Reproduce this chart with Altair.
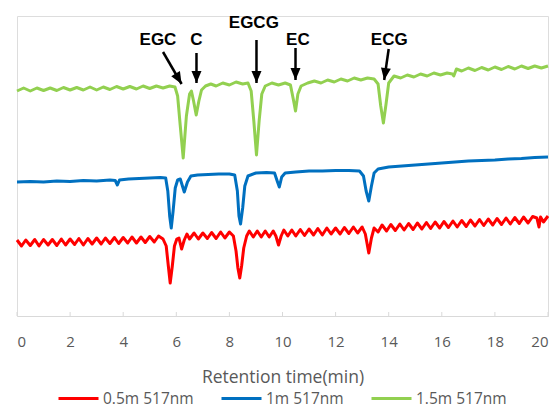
import math
import altair as alt
import pandas as pd

# ---- data (signal in arbitrary units) ----
series_names = ["0.5m 517nm", "1m 517nm", "1.5m 517nm"]
series_colors = ["#FF0000", "#0070C0", "#92D050"]

red_t = [0.00, 0.17, 0.33, 0.50, 0.67, 0.83, 1.00, 1.17, 1.33, 1.50, 1.67, 1.83,
         2.00, 2.17, 2.33, 2.50, 2.67, 2.83, 3.00, 3.17, 3.33, 3.50, 3.67, 3.83,
         4.00, 4.17, 4.33, 4.50, 4.67, 4.83, 5.00, 5.17, 5.33, 5.50, 5.62, 5.70,
         5.77, 5.85, 5.93, 6.02, 6.10, 6.20, 6.30, 6.40, 6.50, 6.67, 6.83, 7.00,
         7.17, 7.33, 7.50, 7.67, 7.83, 8.00, 8.15, 8.25, 8.32, 8.39, 8.46, 8.54,
         8.65, 8.75, 8.90, 9.05, 9.20, 9.35, 9.50, 9.65, 9.75, 9.85, 9.95, 10.05,
         10.20, 10.35, 10.50, 10.67, 10.83, 11.00, 11.17, 11.33, 11.50, 11.67, 11.83, 12.00,
         12.17, 12.33, 12.50, 12.67, 12.83, 13.00, 13.12, 13.25, 13.35, 13.45, 13.60, 13.75,
         13.92, 14.08, 14.25, 14.42, 14.58, 14.75, 14.92, 15.08, 15.25, 15.42, 15.58, 15.75,
         15.92, 16.08, 16.25, 16.42, 16.58, 16.75, 16.92, 17.08, 17.25, 17.42, 17.58, 17.75,
         17.92, 18.08, 18.25, 18.42, 18.58, 18.75, 18.92, 19.08, 19.25, 19.42, 19.58, 19.66,
         19.72, 19.83, 20.00]
red_v = [76, 70, 76, 70.5, 76.5, 70, 76.5, 71, 76.5, 70.5, 77, 71,
         77, 71.5, 77.5, 71, 77.5, 72, 78, 72, 78, 72.5, 78.5, 72.5,
         78.5, 73, 79, 73, 79, 73.5, 79.5, 74, 80, 77, 70, 50,
         33, 50, 70, 77, 78, 67, 76, 82, 77, 83, 77, 83,
         77.5, 83.5, 77.5, 84, 78, 84, 80, 65, 48, 38, 50, 68,
         80, 85, 79, 85, 79, 85, 79, 85, 80, 71, 80, 86,
         80, 86, 80, 86.5, 80.5, 87, 81, 87.5, 81, 88, 82, 88,
         82, 88.5, 82.5, 89, 83, 89, 82, 63, 78, 88, 84, 91,
         85, 91.5, 85.5, 92, 86, 92.5, 86.5, 93, 87, 93.5, 87.5, 94,
         88, 94.5, 88.5, 95, 89, 95.5, 89.5, 96, 90, 96.5, 90.5, 97,
         91, 97.5, 91.5, 98, 92, 98.5, 92.5, 99, 93, 99.5, 98, 89,
         99, 94, 100]

blue_t = [0.0, 0.5, 1.0, 1.5, 2.0, 2.5, 3.0, 3.5, 3.7, 3.78, 3.86, 4.2,
          4.6, 5.0, 5.4, 5.6, 5.68, 5.75, 5.81, 5.88, 5.96, 6.05, 6.15, 6.3,
          6.42, 6.55, 6.8, 7.2, 7.6, 8.0, 8.2, 8.3, 8.36, 8.42, 8.5, 8.58,
          8.7, 9.0, 9.4, 9.7, 9.8, 9.88, 9.97, 10.1, 10.5, 11.0, 11.5, 12.0,
          12.5, 12.9, 13.05, 13.15, 13.25, 13.35, 13.45, 13.6, 14.0, 14.5, 15.0, 15.5,
          16.0, 16.5, 17.0, 17.5, 18.0, 18.5, 19.0, 19.5, 20.0]
blue_v = [134, 134.5, 134, 135, 134.5, 135.5, 135, 136, 135.5, 131, 136, 137,
          137.5, 138, 138.5, 138, 125, 100, 88, 105, 128, 136, 137, 124,
          134, 140, 141, 141.5, 142, 142, 141, 125, 100, 92, 108, 130,
          140, 143, 143.5, 143, 135, 129, 139, 143, 144, 145, 145, 145.5,
          145.5, 145, 140, 125, 115, 130, 143, 147, 149, 150, 151, 152,
          153, 154, 155, 155.5, 156, 157, 157.5, 158.5, 159]

green_t = [0.0, 0.25, 0.5, 0.75, 1.0, 1.25, 1.5, 1.75, 2.0, 2.25, 2.5, 2.75,
           3.0, 3.25, 3.5, 3.75, 4.0, 4.25, 4.5, 4.75, 5.0, 5.25, 5.5, 5.75,
           5.95, 6.05, 6.15, 6.26, 6.38, 6.5, 6.57, 6.65, 6.75, 6.85, 6.95, 7.1,
           7.3, 7.5, 7.75, 8.0, 8.25, 8.5, 8.7, 8.82, 8.92, 9.02, 9.12, 9.22,
           9.35, 9.6, 9.85, 10.1, 10.3, 10.42, 10.49, 10.58, 10.7, 10.95, 11.2, 11.45,
           11.7, 11.95, 12.2, 12.45, 12.7, 12.95, 13.2, 13.45, 13.6, 13.7, 13.8, 13.9,
           14.0, 14.2, 14.45, 14.7, 14.95, 15.2, 15.45, 15.7, 15.95, 16.2, 16.4, 16.45,
           16.55, 16.75, 17.0, 17.25, 17.5, 17.75, 18.0, 18.25, 18.5, 18.75, 19.0, 19.25,
           19.5, 19.75, 20.0]
green_v = [225, 228, 225, 228, 225.5, 228, 225.5, 228.5, 226, 228.5, 226, 229,
           226, 229, 226.5, 229.5, 227, 229.5, 227, 230, 227.5, 230, 228, 230,
           229, 220, 190, 158, 200, 222, 225, 215, 201, 215, 226, 230,
           232, 230, 233, 231, 234, 232, 233, 225, 195, 161, 195, 222,
           230, 233, 231, 233, 231, 215, 205, 222, 230, 233, 235, 233,
           236, 234, 237, 235, 238, 236, 238, 237, 232, 210, 193, 212,
           233, 240, 238, 241, 239, 242, 240, 243, 241, 243, 242, 240,
           247, 245, 248, 245.5, 248.5, 246, 249, 246.5, 249.5, 247, 250, 247.5,
           250, 248, 250]

peak_labels = ["EGC", "C", "EGCG", "EC", "ECG"]
label_t = [5.31, 6.76, 8.92, 10.58, 14.02]
label_v = [276, 276, 293, 276, 276]
arrow_t0 = [5.50, 6.76, 9.02, 10.49, 14.00]
arrow_v0 = [264, 263, 276, 268, 267]
arrow_t1 = [6.20, 6.76, 9.02, 10.49, 13.83]
arrow_v1 = [232, 233, 233, 236, 236]

x_ticks = [0, 2, 4, 6, 8, 10, 12, 14, 16, 18, 20]

# ---- layout ----
W, H = 531, 300
X_MAX, Y_MAX = 20, 300

frames = []
for name, ts, vs in zip(series_names, [red_t, blue_t, green_t], [red_v, blue_v, green_v]):
    frames.append(pd.DataFrame({"t": ts, "v": vs, "series": name}))
traces = pd.concat(frames, ignore_index=True)

labels_df = pd.DataFrame({"label": peak_labels, "t": label_t, "v": label_v})
arrows_df = pd.DataFrame({"t0": arrow_t0, "v0": arrow_v0, "t1": arrow_t1, "v1": arrow_v1})
px_x = W / X_MAX
px_y = H / Y_MAX
arrows_df["angle"] = [
    (math.degrees(math.atan2(-(b - a) * px_x, (c - d) * px_y)) + 360) % 360
    for a, b, c, d in zip(arrows_df.t0, arrows_df.t1, arrows_df.v0, arrows_df.v1)
]
ticks_df = pd.DataFrame({"t": x_ticks})

x_scale = alt.Scale(domain=[0, X_MAX], nice=False, zero=False)
y_scale = alt.Scale(domain=[0, Y_MAX], nice=False, zero=False)

FONT = "Open Sans"
GRAY = "#595959"

lines = alt.Chart(traces).mark_line(strokeWidth=3, strokeJoin="round").encode(
    x=alt.X("t:Q", scale=x_scale,
            axis=alt.Axis(values=x_ticks, format="d", grid=False, ticks=False,
                          domainColor="#d9d9d9", domainWidth=1,
                          labelFont=FONT, labelFontSize=15, labelColor=GRAY,
                          labelPadding=18, title="Retention time(min)",
                          titleFont=FONT, titleFontSize=17.5, titleFontWeight="normal",
                          titleColor=GRAY, titlePadding=19)),
    y=alt.Y("v:Q", scale=y_scale, axis=None),
    color=alt.Color("series:N",
                    scale=alt.Scale(domain=series_names, range=series_colors),
                    legend=alt.Legend(orient="none", direction="horizontal", title=None,
                                      legendX=40, legendY=361,
                                      symbolType="stroke", symbolSize=1600,
                                      symbolStrokeWidth=3, labelOffset=3,
                                      columnPadding=21, padding=0,
                                      labelFont=FONT, labelFontSize=15.5,
                                      labelColor=GRAY)),
    detail="series:N",
    order=alt.Order("t:Q"),
)

ticks = alt.Chart(ticks_df).mark_rule(color="#d9d9d9", strokeWidth=1).encode(
    x=alt.X("t:Q", scale=x_scale),
    y=alt.value(H - 4),
    y2=alt.value(H),
)

shafts = alt.Chart(arrows_df).mark_rule(color="black", strokeWidth=2.5).encode(
    x=alt.X("t0:Q", scale=x_scale),
    y=alt.Y("v0:Q", scale=y_scale),
    x2="t1:Q",
    y2="v1:Q",
)

heads = alt.Chart(arrows_df).mark_point(
    shape="M-1,-2.4L1,-2.4L0,0Z", filled=True, color="black", opacity=1, size=100,
    strokeWidth=0,
).encode(
    x=alt.X("t1:Q", scale=x_scale),
    y=alt.Y("v1:Q", scale=y_scale),
    angle=alt.Angle("angle:Q", scale=None),
)

texts = alt.Chart(labels_df).mark_text(
    font="Liberation Sans", fontWeight="bold", fontSize=17, color="black",
    align="center", baseline="middle",
).encode(
    x=alt.X("t:Q", scale=x_scale),
    y=alt.Y("v:Q", scale=y_scale),
    text="label:N",
)

chart = alt.layer(ticks, lines, shafts, heads, texts).properties(
    width=W, height=H,
    autosize=alt.AutoSizeParams(type="none"),
    padding={"left": 17, "top": 16, "right": 11, "bottom": 94},
).configure_view(stroke=None).configure(background="white")

chart.save("out.html", embed_options={"renderer": "svg", "actions": False})
